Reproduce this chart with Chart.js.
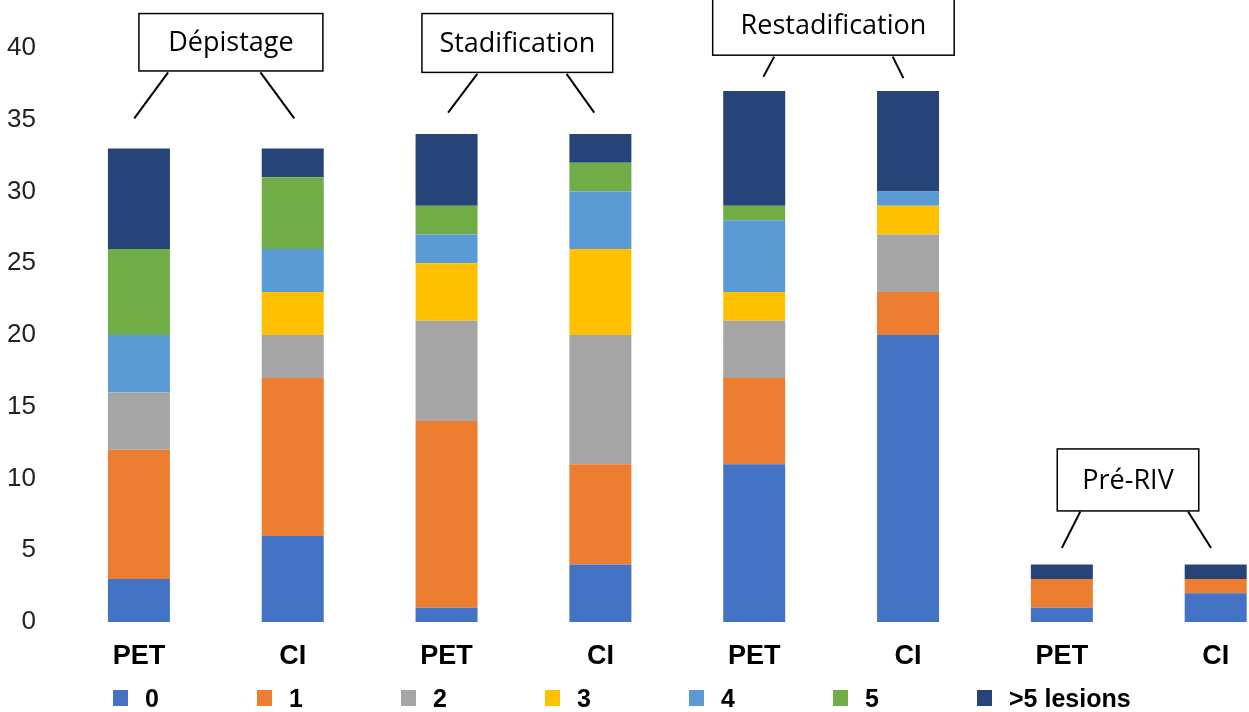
<!DOCTYPE html>
<html>
<head>
<meta charset="utf-8">
<script src="https://cdn.jsdelivr.net/npm/chart.js@4.4.0/dist/chart.umd.min.js"></script>
<style>
  html, body { margin: 0; padding: 0; background: #fff; }
  #wrap { position: relative; width: 1249px; height: 712px; }
  #legend {
    position: absolute; left: 113px; top: 686px; display: flex;
    font: bold 25px "Liberation Sans", Arial, sans-serif; color: #000;
    white-space: nowrap;
  }
  #legend .item { display: flex; align-items: center; width: 144px; height: 24px; flex: none; }
  #legend .box { width: 15px; height: 16px; margin-right: 17px; flex: none; }
</style>
</head>
<body>
<div id="wrap">
  <canvas id="myChart"></canvas>
  <div id="legend"></div>
</div>
<script>
// Data
const categories = ["PET", "CI", "PET", "CI", "PET", "CI", "PET", "CI"];
const groupLabels = ["Dépistage", "Stadification", "Restadification", "Pré-RIV"];
const seriesNames = ["0", "1", "2", "3", "4", "5", ">5 lesions"];
const lesions0 = [3, 6, 1, 4, 11, 20, 1, 2];
const lesions1 = [9, 11, 13, 7, 6, 3, 2, 1];
const lesions2 = [4, 3, 7, 9, 4, 4, 0, 0];
const lesions3 = [0, 3, 4, 6, 2, 2, 0, 0];
const lesions4 = [4, 3, 2, 4, 5, 1, 0, 0];
const lesions5 = [6, 5, 2, 2, 1, 0, 0, 0];
const lesionsMore = [7, 2, 5, 2, 8, 7, 1, 1];
const yTicks = [0, 5, 10, 15, 20, 25, 30, 35, 40];

const seriesValues = [lesions0, lesions1, lesions2, lesions3, lesions4, lesions5, lesionsMore];
const colors = ["#4472C4", "#ED7D31", "#A5A5A5", "#FFC000", "#5B9BD5", "#70AD47", "#264478"];

// callout boxes above each PET/CI pair
const callouts = {
  id: "callouts",
  afterDraw(chart, args, options) {
    const { ctx, scales: { x, y } } = chart;
    ctx.save();
    options.boxes.forEach((b, i) => {
      const left = x.getPixelForValue(b.x0);
      const right = x.getPixelForValue(b.x1);
      const top = y.getPixelForValue(b.y0);
      const bottom = y.getPixelForValue(b.y1);
      ctx.fillStyle = "#fff";
      ctx.fillRect(left, top, right - left, bottom - top);
      ctx.lineWidth = 1.5;
      ctx.strokeStyle = "#000";
      ctx.strokeRect(left, top, right - left, bottom - top);
      ctx.fillStyle = "#000";
      ctx.font = '27px "Open Sans", sans-serif';
      ctx.textAlign = "center";
      ctx.textBaseline = "middle";
      ctx.fillText(groupLabels[i], (left + right) / 2, (top + bottom) / 2 + 1);
      ctx.lineWidth = 2;
      b.lines.forEach((l) => {
        ctx.beginPath();
        ctx.moveTo(x.getPixelForValue(l[0]), y.getPixelForValue(l[1]));
        ctx.lineTo(x.getPixelForValue(l[2]), y.getPixelForValue(l[3]));
        ctx.stroke();
      });
    });
    ctx.restore();
  },
};

const myChart = document.getElementById("myChart");
const chart = new Chart(myChart, {
  type: "bar",
  data: {
    datasets: seriesNames.map((name, s) => ({
      label: name,
      data: seriesValues[s].map((v, i) => ({ x: i, y: v })),
      backgroundColor: colors[s],
      borderWidth: 0,
      barPercentage: 1,
      categoryPercentage: 0.403,
    })),
  },
  options: {
    responsive: true,
    maintainAspectRatio: false,
    animation: false,
    layout: { padding: { top: 48, bottom: 36, left: 0, right: 1 } },
    plugins: {
      legend: { display: false },
      tooltip: { enabled: false },
      callouts: {
        boxes: [
          { x0: 0.0, x1: 1.196, y0: 42.4, y1: 38.4, lines: [[0.19, 38.3, -0.03, 35.1], [0.79, 38.3, 1.01, 35.1]] },
          { x0: 1.84, x1: 3.08, y0: 42.4, y1: 38.3, lines: [[2.2, 38.2, 2.01, 35.5], [2.78, 38.2, 2.96, 35.5]] },
          { x0: 3.73, x1: 5.30, y0: 43.6, y1: 39.5, lines: [[4.13, 39.4, 4.06, 38.0], [4.9, 39.4, 4.97, 37.9]] },
          { x0: 5.97, x1: 6.89, y0: 12.06, y1: 7.74, lines: [[6.12, 7.7, 6.0, 5.16], [6.82, 7.7, 6.97, 5.16]] },
        ],
      },
    },
    scales: {
      x: {
        type: "linear",
        stacked: true,
        offset: false,
        min: -0.5,
        max: 7.21,
        grid: { display: false, drawTicks: false, offset: false },
        border: { display: false },
        afterBuildTicks: (scale) => {
          scale.ticks = categories.map((c, i) => ({ value: i }));
        },
        afterFit: (scale) => {
          scale.height = 54;
        },
        ticks: {
          padding: 18,
          color: "#000",
          font: { family: '"Liberation Sans", Arial, sans-serif', size: 27, weight: "bold" },
          callback: (v) => categories[v],
        },
      },
      y: {
        stacked: true,
        min: 0,
        max: 40,
        grid: { display: false, drawTicks: false },
        border: { display: false },
        afterBuildTicks: (scale) => {
          scale.ticks = yTicks.map((v) => ({ value: v }));
        },
        afterFit: (scale) => {
          scale.width = 62;
        },
        ticks: {
          padding: 26,
          color: "#222",
          font: { family: '"Liberation Sans", Arial, sans-serif', size: 26 },
        },
      },
    },
  },
  plugins: [callouts],
});

// legend
const legend = document.getElementById("legend");
chart.data.datasets.forEach((ds) => {
  const item = document.createElement("div");
  item.className = "item";
  const box = document.createElement("span");
  box.className = "box";
  box.style.background = ds.backgroundColor;
  const label = document.createElement("span");
  label.textContent = ds.label;
  item.appendChild(box);
  item.appendChild(label);
  legend.appendChild(item);
});
</script>
</body>
</html>
